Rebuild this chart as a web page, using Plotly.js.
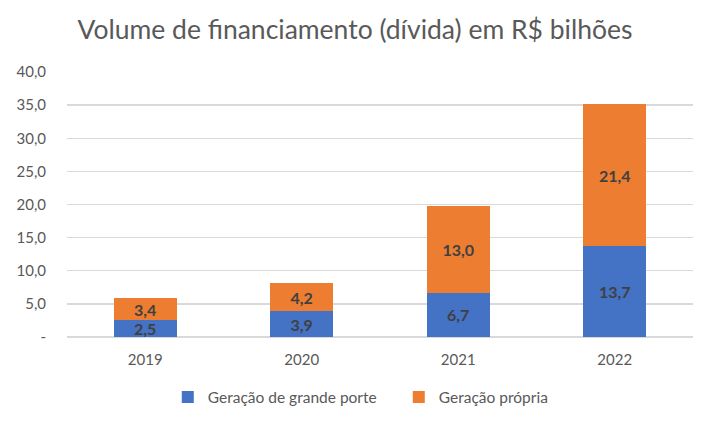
<!doctype html>
<html lang="pt">
<head>
    <meta charset="UTF-8">
    <title>Volume de financiamento</title>
    <script src="https://cdn.plot.ly/plotly-3.0.1.min.js"></script>
    <style>
        body { margin: 0; background: white; }
        #chart { width: 710px; height: 426px; }
    </style>
</head>
<body>
    <div id="chart"></div>
    <script>
        var anos = ['2019', '2020', '2021', '2022'];
        var grandePorte = [2.5, 3.9, 6.7, 13.7];
        var propria = [3.4, 4.2, 13.0, 21.4];
        var tickVals = [0, 5, 10, 15, 20, 25, 30, 35, 40];
        var tickText = ['-', '5,0', '10,0', '15,0', '20,0', '25,0', '30,0', '35,0', '40,0'];

        function fmt(v) { return v.toFixed(1).replace('.', ','); }

        var labelFont = { family: 'Lato, sans-serif', size: 16, color: '#404040', weight: 'bold' };

        var traces = [
            {
                x: anos, y: grandePorte, type: 'bar', name: 'Geração de grande porte',
                marker: { color: '#4472C4' },
                text: grandePorte.map(fmt), textposition: 'inside', insidetextanchor: 'middle',
                constraintext: 'none', textangle: 0,
                textfont: labelFont, hoverinfo: 'none'
            },
            {
                x: anos, y: propria, type: 'bar', name: 'Geração própria',
                marker: { color: '#ED7D31' },
                text: propria.map(fmt), textposition: 'inside', insidetextanchor: 'middle',
                constraintext: 'none', textangle: 0,
                textfont: labelFont, hoverinfo: 'none'
            }
        ];

        var layout = {
            width: 710, height: 426,
            barmode: 'stack', bargap: 0.6,
            paper_bgcolor: 'white', plot_bgcolor: 'white',
            font: { family: 'Lato, sans-serif', color: '#595959', size: 15 },
            title: {
                text: 'Volume de financiamento (dívida) em R$ bilhões',
                font: { family: 'Lato, sans-serif', size: 26.5, color: '#595959' },
                x: 0.5, xanchor: 'center', y: 0.93, yanchor: 'middle'
            },
            margin: { l: 67, r: 17, t: 72, b: 89 },
            xaxis: {
                type: 'category', showgrid: false, zeroline: false, showline: false,
                ticks: '', ticklabelstandoff: 12, tickfont: { size: 15, color: '#595959' },
                automargin: false
            },
            yaxis: {
                range: [0, 40], tickvals: tickVals, ticktext: tickText,
                showgrid: true, gridcolor: '#D9D9D9', gridwidth: 1.3,
                zeroline: true, zerolinecolor: '#D9D9D9', zerolinewidth: 1.3,
                showline: false, ticks: '', ticklabelstandoff: 20,
                tickfont: { size: 15, color: '#595959' }, automargin: false
            },
            showlegend: true,
            legend: {
                orientation: 'h', x: 0.53, xanchor: 'center', y: -0.228, yanchor: 'middle',
                font: { size: 15.5, color: '#595959' }, traceorder: 'normal',
                itemwidth: 30, entrywidth: 186
            }
        };

        Plotly.newPlot('chart', traces, layout, { displayModeBar: false, staticPlot: true });
    </script>
</body>
</html>
